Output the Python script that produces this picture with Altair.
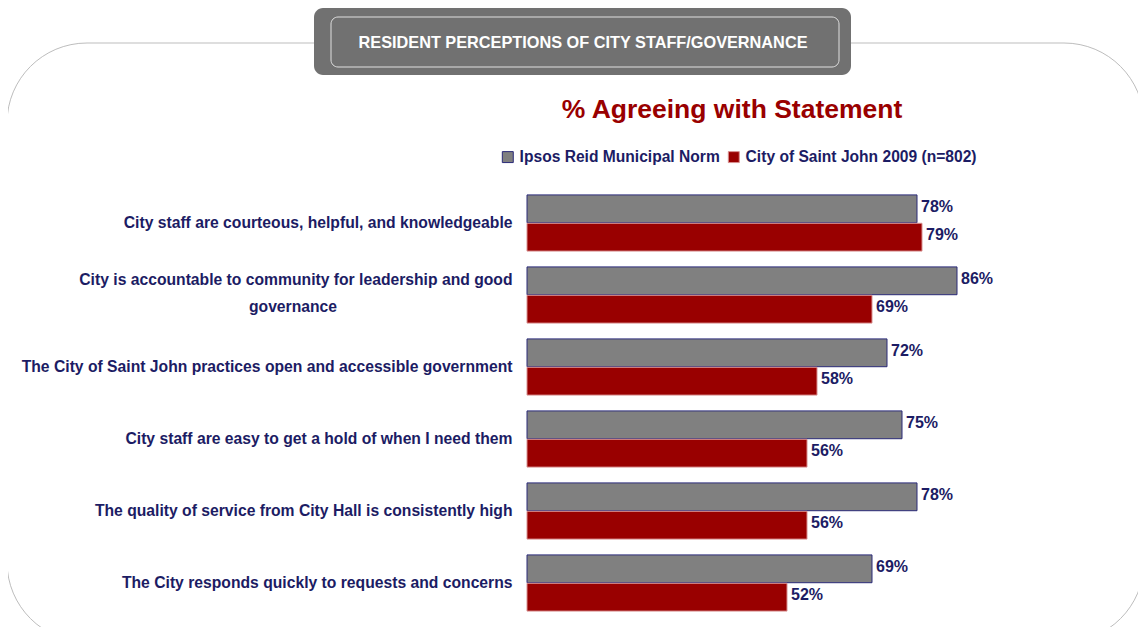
import altair as alt
import pandas as pd

statements = [
    "City staff are courteous, helpful, and knowledgeable",
    "City is accountable to community for leadership and good governance",
    "The City of Saint John practices open and accessible government",
    "City staff are easy to get a hold of when I need them",
    "The quality of service from City Hall is consistently high",
    "The City responds quickly to requests and concerns",
]
series = ["Ipsos Reid Municipal Norm", "City of Saint John 2009 (n=802)"]
norm_values = [78, 86, 72, 75, 78, 69]
city_values = [79, 69, 58, 56, 56, 52]

header_text = "RESIDENT PERCEPTIONS OF CITY STAFF/GOVERNANCE"
title_text = "% Agreeing with Statement"
wrap_line1 = "City is accountable to community for leadership and good"
wrap_line2 = "governance"

rows = []
for s, n, c in zip(statements, norm_values, city_values):
    rows.append({"statement": s, "series": series[0], "value": n, "label": f"{n}%"})
    rows.append({"statement": s, "series": series[1], "value": c, "label": f"{c}%"})
df = pd.DataFrame(rows)

NAVY = "#1c1c64"
FONT = "Liberation Sans"
color_scale = alt.Scale(domain=series, range=["#808080", "#990000"])
stroke_scale = alt.Scale(domain=series, range=["#2a2a78", "#d89090"])

wrap_label = statements[1]
label_expr = f"datum.label == '{wrap_label}' ? '{wrap_line1}' : datum.label"

y_enc = alt.Y(
    "statement:N",
    sort=statements,
    scale=alt.Scale(paddingInner=0.22, paddingOuter=0.11),
    axis=alt.Axis(
        title=None, domain=False, ticks=False, labelPadding=15, labelLimit=560,
        labelFont=FONT, labelFontSize=15.7, labelFontWeight="bold",
        labelColor=NAVY,
        labelOffset={"condition": {"test": f"datum.value == '{wrap_label}'", "value": -15}, "value": 0},
        labelExpr=label_expr,
    ),
)
x_enc = alt.X("value:Q", scale=alt.Scale(domain=[0, 100]), axis=None)
yoff = alt.YOffset("series:N", sort=series, scale=alt.Scale(paddingInner=0.02))

bars = alt.Chart(df).mark_bar(strokeWidth=1).encode(
    y=y_enc, x=x_enc, yOffset=yoff,
    color=alt.Color("series:N", scale=color_scale, sort=series,
                    legend=alt.Legend(
                        title=None, orient="none", direction="horizontal",
                        legendX=-27, legendY=-38, symbolType="square", symbolSize=120,
                        symbolStrokeWidth=1, labelFont=FONT, labelFontSize=15.6,
                        labelFontWeight="bold", labelColor=NAVY, columnPadding=6,
                        labelOffset=4, labelLimit=400)),
    stroke=alt.Stroke("series:N", scale=stroke_scale, sort=series, legend=None),
)

labels = alt.Chart(df).mark_text(
    align="left", baseline="middle", dx=4, dy=-2, font=FONT,
    fontSize=16, fontWeight="bold", color=NAVY,
).encode(y=y_enc, x=x_enc, yOffset=yoff, text="label:N")

wrap2 = alt.Chart(pd.DataFrame({"statement": [wrap_label], "t": [wrap_line2]})).mark_text(
    align="center", baseline="middle", dy=12, font=FONT,
    fontSize=15.7, fontWeight="bold", color=NAVY,
).encode(y=alt.Y("statement:N", sort=statements), x=alt.value(-234), text="t:N")

outline = alt.Chart(pd.DataFrame({"k": [0]})).mark_rect(
    fill=None, fillOpacity=0, stroke="#bdbdbd", strokeWidth=1, cornerRadius=80,
).encode(x=alt.value(-520), x2=alt.value(617), y=alt.value(-144), y2=alt.value(455))

header_box = alt.Chart(pd.DataFrame({"k": [0]})).mark_rect(
    fill="#717171", cornerRadius=9,
).encode(x=alt.value(-213), x2=alt.value(324), y=alt.value(-179), y2=alt.value(-112))

header_inner = alt.Chart(pd.DataFrame({"k": [0]})).mark_rect(
    fill=None, fillOpacity=0, stroke="#e0e0e0", strokeWidth=1, cornerRadius=7,
).encode(x=alt.value(-196), x2=alt.value(312), y=alt.value(-170), y2=alt.value(-120))

header = alt.Chart(pd.DataFrame({"t": [header_text]})).mark_text(
    font=FONT, fontSize=16.3, fontWeight="bold", color="white",
    align="center", baseline="middle",
).encode(x=alt.value(56), y=alt.value(-144), text="t:N")

title = alt.Chart(pd.DataFrame({"t": [title_text]})).mark_text(
    font=FONT, fontSize=26.5, fontWeight="bold", color="#990000",
    align="center", baseline="middle",
).encode(x=alt.value(205), y=alt.value(-77), text="t:N")

chart = alt.layer(outline, header_box, header_inner, header, title, bars, labels, wrap2).properties(
    width=500, height=432,
    autosize=alt.AutoSizeParams(type="none"),
    padding={"left": 519, "top": 179, "right": 111, "bottom": 8},
    background="white",
).configure_view(stroke=None)

chart.save("out.html", embed_options={"renderer": "svg", "actions": False})
